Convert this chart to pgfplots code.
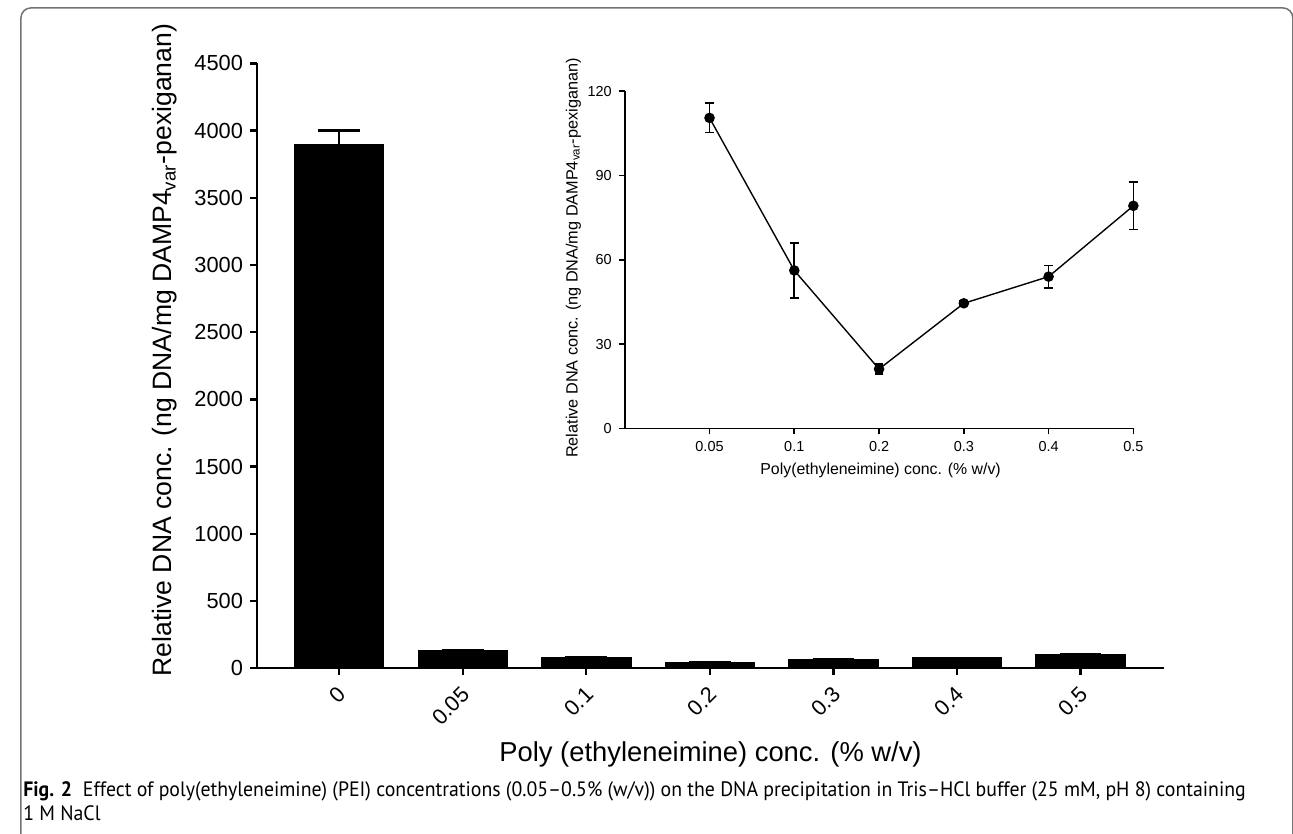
\documentclass[border=0pt]{standalone}
\usepackage{fontspec}
\setmainfont{Liberation Sans}
\newfontfamily\capfont{PT Sans}
\usepackage{graphicx}
\usepackage{pgfplots}
\usepackage{pgfplotstable}
\pgfplotsset{compat=1.18}

\pgfplotstableread{
x y e
0 3900 100
1 135 0
2 83 0
3 46 0
4 66 0
5 78 0
6 103 0
}\bardata

\pgfplotstableread{
x y e
1 110.5 5.2
2 56.2 9.8
3 21.1 1.8
4 44.5 0.8
5 54.0 4.0
6 79.2 8.4
}\insetdata

\newcommand\capstyle{\capfont\fontsize{10.5}{12}\selectfont}
\newcommand\capone{\textbf{Fig. 2}\hspace{0.55em}Effect of poly(ethyleneimine) (PEI) concentrations (0.05–0.5\% (w/v)) on the DNA precipitation in Tris–HCl buffer (25 mM, pH 8) containing}
\newlength\caplen

\begin{document}
\settowidth\caplen{\capstyle\capone}
\pgfmathsetmacro\capscale{616.5pt/\caplen}
\begin{tikzpicture}
\useasboundingbox (0,0) rectangle (646.5pt,420.5pt);
\draw[black!55, line width=0.75pt, rounded corners=5pt] (5pt,-6pt) -- (5pt,416.5pt) -- (646.4pt,416.5pt) -- (646.4pt,-6pt);

% main bar chart
\begin{axis}[
  at={(124pt,83.5pt)}, anchor=south west, scale only axis,
  width=457.5pt, height=305pt,
  xmin=-0.666, xmax=6.677, ymin=0, ymax=4500,
  axis x line*=bottom, axis y line*=left,
  axis line style={line width=1.2pt, -},
  tick style={line width=1.2pt, black},
  tick align=outside, major tick length=3.5pt,
  ytick={0,500,...,4500},
  xtick={0,...,6}, xticklabels={0,0.05,0.1,0.2,0.3,0.4,0.5},
  /pgf/number format/assume math mode=true,
  /pgf/number format/1000 sep={},
  yticklabel style={font=\fontsize{11}{13}\selectfont},
  xticklabel style={font=\fontsize{11}{13}\selectfont, xshift=4pt, yshift=-5.5pt, rotate=45, anchor=east},
  ylabel={Relative DNA conc. (ng DNA/mg DAMP4\textsubscript{var}-pexiganan)},
  xlabel={Poly (ethyleneimine) conc. (\% w/v)},
  ylabel style={font=\fontsize{13.4}{15}\selectfont, at={(axis description cs:-0.102,0.526)}, anchor=center},
  xlabel style={font=\fontsize{13.8}{15}\selectfont, at={(axis description cs:0.5,-0.143)}, anchor=center},
]
\addplot[ybar, bar width=45pt, fill=black, draw=black,
  error bars/.cd, y dir=plus, y explicit,
  error bar style={line width=1.2pt, black},
  error mark options={rotate=90, mark size=10.5pt, line width=1.2pt, black}]
  table[x=x, y=y, y error=e]{\bardata};
\end{axis}

% inset
\begin{axis}[
  at={(309.5pt,204.5pt)}, anchor=south west, scale only axis,
  width=256.5pt, height=170pt, clip=false,
  xmin=0, xmax=6, ymin=0, ymax=120,
  axis x line*=bottom, axis y line*=left,
  axis line style={line width=0.8pt, -},
  tick style={line width=0.8pt, black},
  tick align=outside, major tick length=3pt,
  ytick={0,30,...,120},
  xtick={1,...,6}, xticklabels={0.05,0.1,0.2,0.3,0.4,0.5},
  /pgf/number format/assume math mode=true,
  yticklabel style={font=\fontsize{7.3}{9}\selectfont},
  xticklabel style={font=\fontsize{7.3}{9}\selectfont},
  ylabel={Relative DNA conc. (ng DNA/mg DAMP4\textsubscript{var}-pexiganan)},
  xlabel={Poly(ethyleneimine) conc. (\% w/v)},
  ylabel style={font=\fontsize{8.2}{10}\selectfont, at={(axis description cs:-0.101,0.505)}, anchor=center},
  xlabel style={font=\fontsize{8}{10}\selectfont, at={(axis description cs:0.503,-0.126)}, anchor=center},
]
\addplot[black, line width=0.7pt, mark=*, mark size=2.3pt, mark options={fill=black},
  error bars/.cd, y dir=both, y explicit,
  error bar style={line width=0.8pt, black},
  error mark options={rotate=90, mark size=2.2pt, line width=0.8pt, black}]
  table[x=x, y=y, y error=e]{\insetdata};
\end{axis}

% caption
\node[anchor=base west, inner sep=0pt] at (6pt,19pt) {\scalebox{\capscale}[1]{\capstyle\capone}};
\node[anchor=base west, inner sep=0pt] at (6pt,6.5pt) {\scalebox{\capscale}[1]{\capstyle 1 M NaCl}};
\end{tikzpicture}
\end{document}
